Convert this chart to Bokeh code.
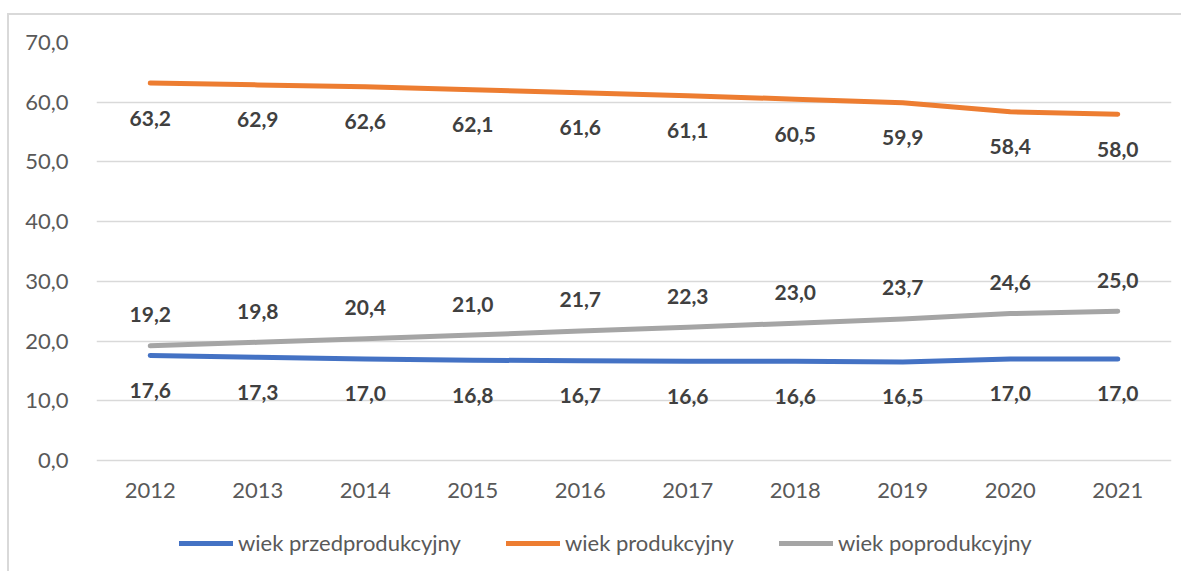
from bokeh.plotting import figure
from bokeh.models import ColumnDataSource, FactorRange, Range1d, Legend, LegendItem, FixedTicker, CustomJSTickFormatter
from bokeh.core.properties import value
from bokeh.embed import file_html
from bokeh.resources import INLINE

years = ["2012", "2013", "2014", "2015", "2016", "2017", "2018", "2019", "2020", "2021"]
przed = [17.6, 17.3, 17.0, 16.8, 16.7, 16.6, 16.6, 16.5, 17.0, 17.0]
prod = [63.2, 62.9, 62.6, 62.1, 61.6, 61.1, 60.5, 59.9, 58.4, 58.0]
poprod = [19.2, 19.8, 20.4, 21.0, 21.7, 22.3, 23.0, 23.7, 24.6, 25.0]
names = ["wiek przedprodukcyjny", "wiek produkcyjny", "wiek poprodukcyjny"]
colors = ["#4472C4", "#ED7D31", "#A5A5A5"]
y_ticks = [0, 10, 20, 30, 40, 50, 60, 70]

FONT = "Lato"

p = figure(x_range=FactorRange(*years, range_padding=0), y_range=Range1d(-17.92, 70),
           width=1174, height=558, output_backend="svg", toolbar_location=None,
           min_border_left=87, min_border_right=12, min_border_top=27, min_border_bottom=6)
p.styles = {"margin-left": "7px", "margin-top": "13px",
            "border-left": "2px solid #d9d9d9", "border-top": "2px solid #d9d9d9"}
p.outline_line_color = None
p.background_fill_color = "white"
p.border_fill_color = "white"

p.xgrid.grid_line_color = None
p.ygrid.grid_line_color = "#D9D9D9"
p.ygrid.grid_line_width = 1.5
p.yaxis.ticker = FixedTicker(ticks=y_ticks)
p.yaxis.formatter = CustomJSTickFormatter(code="return tick.toFixed(1).replace('.', ',');")
p.xaxis.fixed_location = 0

for ax in (p.xaxis[0], p.yaxis[0]):
    ax.axis_line_color = None
    ax.major_tick_line_color = None
    ax.minor_tick_line_color = None
    ax.major_label_text_font = FONT
    ax.major_label_text_font_size = "22px"
    ax.major_label_text_color = "#595959"
p.yaxis.major_label_standoff = 22
p.xaxis.major_label_standoff = 17

series = [przed, prod, poprod]
offsets = [35, 35, -31]
items = []
for vals, name, col, off in zip(series, names, colors, offsets):
    src = ColumnDataSource(dict(x=years, y=vals, lab=[f"{v:.1f}".replace(".", ",") for v in vals]))
    r = p.line("x", "y", source=src, line_color=col, line_width=5, line_cap="round", line_join="round")
    items.append(LegendItem(label=name, renderers=[r]))
    p.text("x", "y", text="lab", source=src, text_align="center", text_baseline="middle",
           y_offset=off, text_font=value(FONT), text_font_style="bold",
           text_font_size="21px", text_color="#404040")

legend = Legend(items=items, orientation="horizontal", location=(83, 11),
                glyph_width=54, glyph_height=20, label_standoff=5, spacing=45,
                padding=0, margin=0, border_line_color=None, background_fill_alpha=0,
                label_text_font=FONT, label_text_font_size="22px", label_text_color="#595959")
p.add_layout(legend, "center")

open("out.html", "w").write(file_html(p, INLINE))
